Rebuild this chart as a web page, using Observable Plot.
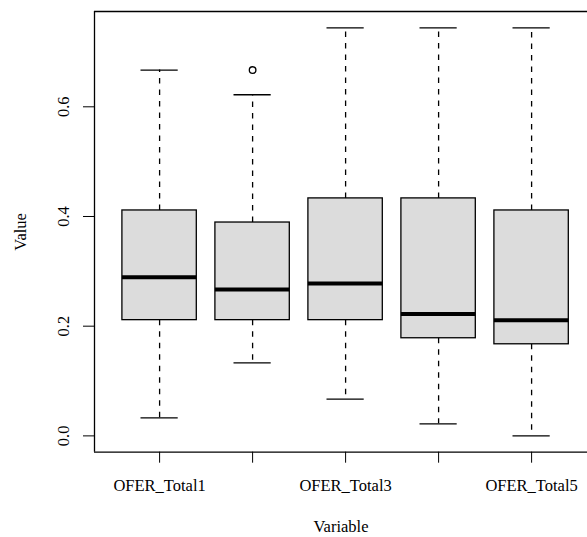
<!DOCTYPE html>
<html>
<head>
<meta charset="utf-8">
<script src="https://cdn.jsdelivr.net/npm/d3@7"></script>
<script src="https://cdn.jsdelivr.net/npm/@observablehq/plot@0.6"></script>
<style>
  html, body { margin: 0; padding: 0; background: white; }
  #chart svg { display: block; }
  #chart g[aria-label="y-axis"] line, #chart g[aria-label="x-axis"] line { stroke-width: 1.3; }
</style>
</head>
<body>
<div id="chart"></div>
<script>
// ---- data ----
const variables = ["OFER_Total1", "OFER_Total2", "OFER_Total3", "OFER_Total4", "OFER_Total5"];
const lowerWhisker = [0.033, 0.133, 0.067, 0.022, 0.000];
const q1 = [0.211, 0.211, 0.211, 0.178, 0.167];
const median = [0.289, 0.267, 0.278, 0.222, 0.211];
const q3 = [0.411, 0.389, 0.433, 0.433, 0.411];
const upperWhisker = [0.667, 0.622, 0.744, 0.744, 0.744];
const outlierVariables = ["OFER_Total2"];
const outlierValues = [0.667];
const yTicks = [0, 0.2, 0.4, 0.6];
const xTickLabels = ["OFER_Total1", "", "OFER_Total3", "", "OFER_Total5"];
const xTitle = "Variable";
const yTitle = "Value";

// ---- tables built from the arrays ----
const boxes = variables.map((v, i) => ({
  variable: v, pos: i + 1,
  lo: lowerWhisker[i], q1: q1[i], med: median[i], q3: q3[i], hi: upperWhisker[i]
}));
const outliers = outlierVariables.map((v, i) => ({pos: variables.indexOf(v) + 1, value: outlierValues[i]}));

const dataMin = d3.min([...lowerWhisker, ...outlierValues]);
const dataMax = d3.max([...upperWhisker, ...outlierValues]);
const pad = (dataMax - dataMin) * 0.04;
const yDomain = [dataMin - pad, dataMax + pad];
const xDomain = [0.3, 0.3 + (587 - 94) / 93];

const lw = 1.3;
const chart = Plot.plot({
  width: 587,
  height: 537,
  marginLeft: 94,
  marginTop: 11,
  marginRight: 0,
  marginBottom: 85.3,
  style: {fontFamily: "'Liberation Serif', 'Times New Roman', serif", fontSize: "16.5px", background: "white", color: "black"},
  x: {
    type: "linear",
    domain: xDomain,
    ticks: variables.map((v, i) => i + 1),
    tickFormat: d => xTickLabels[d - 1],
    tickSize: 11,
    tickPadding: 16,
    label: null
  },
  y: {
    domain: yDomain,
    ticks: yTicks,
    tickFormat: () => "",
    tickSize: 11,
    label: null
  },
  marks: [
    // whiskers
    Plot.ruleX(boxes, {x: "pos", y1: "q3", y2: "hi", stroke: "black", strokeWidth: lw, strokeDasharray: "5.5,6"}),
    Plot.ruleX(boxes, {x: "pos", y1: "q1", y2: "lo", stroke: "black", strokeWidth: lw, strokeDasharray: "5.5,6"}),
    // whisker caps
    Plot.ruleY(boxes, {y: "hi", x1: d => d.pos - 0.2, x2: d => d.pos + 0.2, stroke: "black", strokeWidth: lw}),
    Plot.ruleY(boxes, {y: "lo", x1: d => d.pos - 0.2, x2: d => d.pos + 0.2, stroke: "black", strokeWidth: lw}),
    // boxes
    Plot.rect(boxes, {x1: d => d.pos - 0.4, x2: d => d.pos + 0.4, y1: "q1", y2: "q3", fill: "#dcdcdc", stroke: "black", strokeWidth: lw}),
    // medians
    Plot.ruleY(boxes, {y: "med", x1: d => d.pos - 0.4, x2: d => d.pos + 0.4, stroke: "black", strokeWidth: 4}),
    // outliers
    Plot.dot(outliers, {x: "pos", y: "value", r: 3.3, stroke: "black", strokeWidth: lw, fill: "none"}),
    // plot frame (left, top, bottom)
    Plot.ruleX([xDomain[0]], {stroke: "black", strokeWidth: lw}),
    Plot.ruleY(yDomain, {stroke: "black", strokeWidth: lw}),
    // y tick labels, rotated like R
    Plot.text(yTicks, {y: d => d, text: d => d3.format(".1f")(d), frameAnchor: "left", rotate: -90, dx: -31, textAnchor: "middle", lineAnchor: "middle", fill: "black"}),
    // axis titles
    Plot.text([xTitle], {frameAnchor: "bottom", dy: 75, textAnchor: "middle", lineAnchor: "middle", fill: "black"}),
    Plot.text([yTitle], {frameAnchor: "left", rotate: -90, dx: -74, textAnchor: "middle", lineAnchor: "middle", fill: "black"})
  ]
});
document.getElementById("chart").appendChild(chart);
</script>
</body>
</html>
